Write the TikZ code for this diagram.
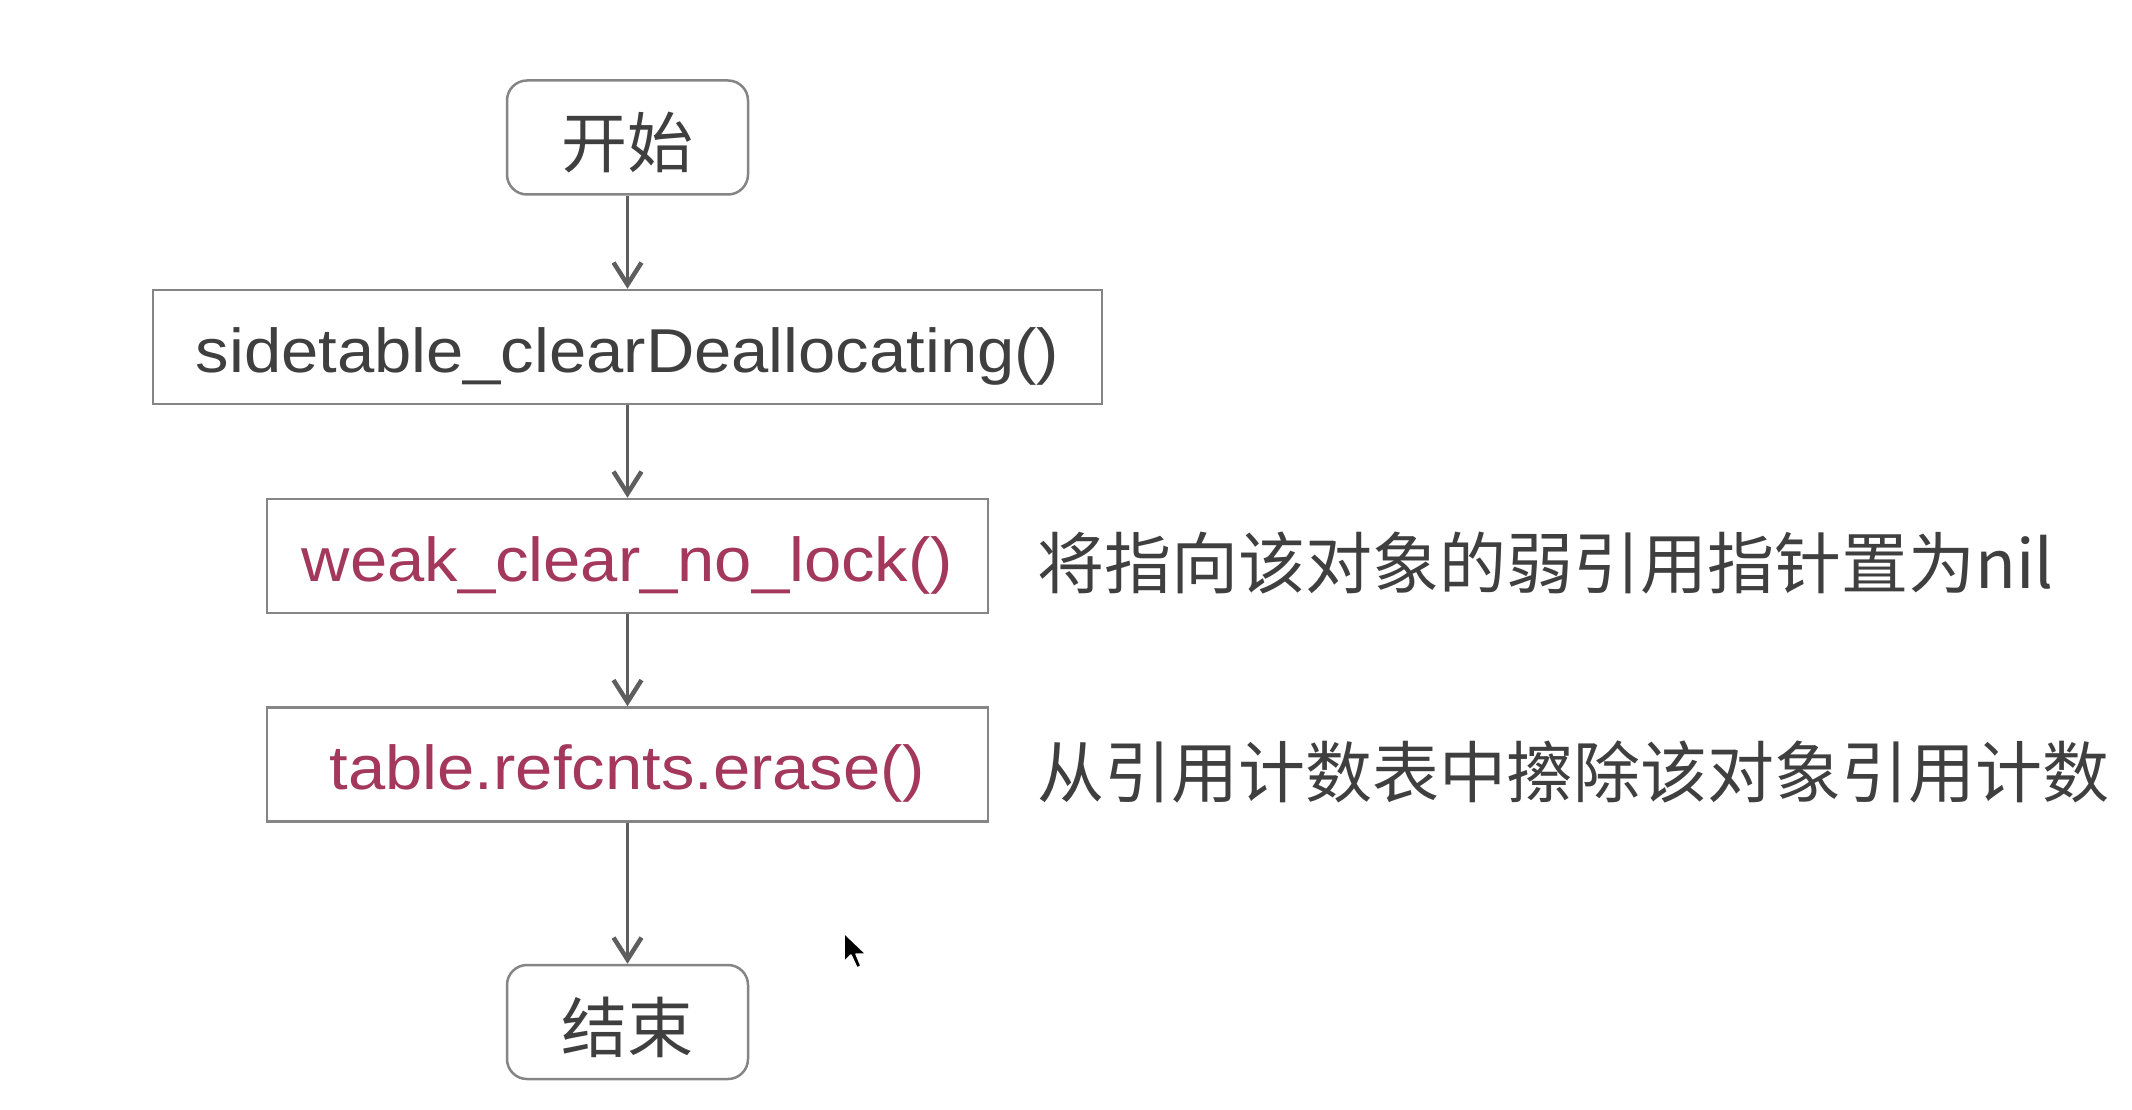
\documentclass[tikz,border=0pt]{standalone}
\usepackage{fontspec}
\setmainfont{Liberation Sans}
\newfontfamily\cjk{Noto Sans CJK SC}
\newfontfamily\latinw[FakeStretch=1.08]{Liberation Sans}
\usetikzlibrary{arrows.meta}
\definecolor{textgray}{HTML}{3F3F3F}
\definecolor{redtext}{HTML}{A3385C}
\definecolor{boxgray}{HTML}{858585}
\definecolor{arrowgray}{HTML}{5E5E5E}
\tikzset{
  procbox/.style={draw=boxgray, line width=2.5pt, minimum height=114pt, inner sep=0pt,
    text height=50pt, text depth=0pt, text=textgray,
    font=\latinw\fontsize{62}{70}\selectfont},
  redbox/.style={procbox, text=redtext},
  termbox/.style={draw=boxgray, line width=2.5pt, rounded corners=20pt, minimum width=241pt,
    minimum height=114pt, inner sep=0pt, text height=60pt, text depth=0pt, text=textgray,
    font=\cjk\fontsize{66}{70}\selectfont},
  note/.style={anchor=base west, inner sep=0pt, text=textgray, font=\cjk\fontsize{67}{70}\selectfont},
  flow/.style={draw=arrowgray, line width=2.2pt,
    -{Straight Barb[length=22pt,width=28pt,line width=4.5pt]}}
}
\begin{document}
\begin{tikzpicture}[x=1pt,y=-1pt]
\useasboundingbox[fill=white] (0,0) rectangle (2132,1110);

\node[termbox] (start) at (627.5,137.5) {开始};
\node[procbox, minimum width=949pt] (side) at (627.5,347) {sidetable\_clearDeallocating()};
\node[redbox, minimum width=721pt] (weak) at (627.5,556) {weak\_clear\_no\_lock()};
\node[redbox, minimum width=721pt] (tbl) at (627.5,764.5) {table.refcnts.erase()};
\node[termbox] (end) at (627.5,1022) {结束};

\node[note] (n1) at (1037,588) {将指向该对象的弱引用指针置为nil};
\node[note] (n2) at (1037,797) {从引用计数表中擦除该对象引用计数};

\draw[flow] (start) -- (side);
\draw[flow] (side) -- (weak);
\draw[flow] (weak) -- (tbl);
\draw[flow] (tbl) -- (end);

% mouse cursor
\filldraw[fill=black, draw=white, line width=1.5pt, line join=round]
  (844,933) -- (844,962) -- (851,955) -- (857,968) -- (861,966) -- (856,954) -- (866,954) -- cycle;
\end{tikzpicture}
\end{document}
